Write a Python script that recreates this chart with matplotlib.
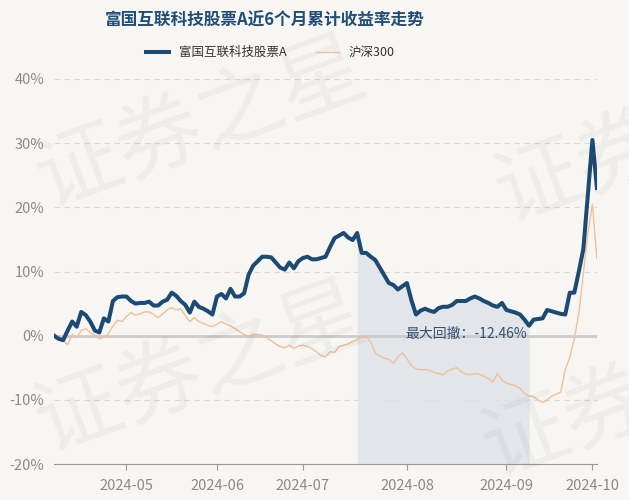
import matplotlib
matplotlib.use("Agg")
import matplotlib.pyplot as plt
import pandas as pd

plt.rcParams["font.family"] = ["Noto Sans CJK SC", "DejaVu Sans"]

# trading days shown on the category axis
holidays = ["2024-05-01", "2024-05-02", "2024-05-03", "2024-06-10",
            "2024-09-16", "2024-09-17", "2024-10-01", "2024-10-02",
            "2024-10-03", "2024-10-04", "2024-10-07"]
days = pd.bdate_range("2024-04-09", "2024-10-09")
days = days[~days.isin(pd.to_datetime(holidays))]

fund = [0.0, -0.5, -0.7, 0.8, 2.2, 1.4, 3.7, 3.2, 2.2, 0.8,
        0.5, 2.7, 2.2, 5.4, 6.0, 6.1, 6.1, 5.4, 5.0, 5.1,
        5.1, 5.3, 4.7, 4.7, 5.3, 5.6, 6.7, 6.2, 5.4, 4.8,
        3.6, 5.3, 4.5, 4.2, 3.8, 3.3, 6.1, 6.5, 5.8, 7.3,
        6.1, 6.1, 6.6, 9.5, 10.9, 11.6, 12.3, 12.3, 12.2, 11.4,
        10.6, 10.3, 11.4, 10.5, 11.6, 12.1, 12.3, 11.9, 11.9, 12.1,
        12.3, 13.8, 15.2, 15.6, 16.0, 15.3, 14.9, 16.0, 12.9, 12.9,
        12.3, 11.8, 10.6, 9.4, 8.2, 7.9, 7.2, 7.7, 8.2, 5.5,
        3.3, 3.9, 4.2, 3.9, 3.7, 4.3, 4.5, 4.5, 4.8, 5.4,
        5.4, 5.4, 5.8, 6.1, 5.8, 5.4, 5.1, 4.7, 4.5, 5.1,
        4.0, 3.8, 3.6, 3.3, 2.5, 1.55, 2.5, 2.6, 2.7, 4.0,
        3.8, 3.6, 3.4, 3.3, 6.7, 6.7, 10.0, 13.5, 22.0, 30.5,
        23.0]

hs300 = [0.0, -0.3, -0.8, -1.4, 0.2, -0.3, 0.8, 1.1, 0.5, 0.1,
         -0.5, -0.2, 0.3, 1.5, 2.4, 2.2, 3.0, 3.6, 3.2, 3.4,
         3.7, 3.7, 3.3, 2.8, 3.4, 4.0, 4.4, 4.0, 4.2, 3.1,
         2.2, 2.8, 2.2, 1.9, 1.6, 1.4, 1.8, 2.2, 1.8, 1.5,
         1.1, 0.6, 0.2, -0.1, 0.2, 0.2, 0.1, -0.3, -0.8, -1.3,
         -1.7, -1.9, -1.5, -2.0, -1.6, -1.5, -1.7, -2.0, -2.5, -3.1,
         -3.3, -2.5, -2.6, -1.7, -1.5, -1.3, -0.9, -0.6, -0.1, -0.2,
         -1.0, -2.7, -3.2, -3.5, -3.7, -4.3, -3.3, -2.7, -3.6, -4.7,
         -5.2, -5.3, -5.3, -5.4, -5.7, -5.9, -6.1, -5.5, -5.2, -5.0,
         -5.6, -6.0, -6.1, -5.9, -6.0, -6.3, -6.7, -7.2, -5.9, -6.9,
         -7.4, -7.6, -7.8, -8.2, -9.0, -9.4, -9.5, -10.0, -10.4, -10.0,
         -9.4, -9.1, -8.8, -5.3, -3.4, -0.5, 3.5, 9.7, 16.0, 20.5,
         12.0]

drawdown_start = "2024-07-17"
drawdown_end = "2024-09-09"
drawdown_text = "最大回撤：-12.46%"
y_ticks = [-20, -10, 0, 10, 20, 30, 40]

x = list(range(len(days)))
date_str = [d.strftime("%Y-%m-%d") for d in days]
month_first = pd.Series(x, index=days).groupby(days.to_period("M")).first()
tick_pos = list(month_first.values[1:])
tick_lab = [str(p) for p in month_first.index[1:]]

bg = "#f8f6f2"
fig = plt.figure(figsize=(6.29, 5.0), dpi=100, facecolor=bg)

# watermark
wm = dict(fontsize=62, color="#000000", alpha=0.04, rotation=20,
          ha="center", va="center")
fig.text(0.32, 0.75, "证券之星", **wm)
fig.text(0.32, 0.26, "证券之星", **wm)
fig.text(1.05, 0.72, "证券之星", clip_on=True, **wm)
fig.text(1.03, 0.21, "证券之星", clip_on=True, **wm)

ax = fig.add_axes([0.086, 0.072, 0.863, 0.770], facecolor="none")

s = date_str.index(drawdown_start)
e = date_str.index(drawdown_end)
ax.fill_between(x[s:e + 1], -20, fund[s:e + 1], color="#dde3ea",
                alpha=0.8, lw=0, zorder=1)
for t in y_ticks:
    if t == 0:
        ax.axhline(t, color="#cccccc", lw=2, zorder=2)
    else:
        ax.axhline(t, color="#d9d9d9", lw=0.8, ls=(0, (5, 4)), zorder=0)

ax.plot(x, hs300, color="#eec19a", lw=1.0, zorder=3, label="沪深300")
ax.plot(x, fund, color="#1b4a75", lw=2.9, zorder=4, label="富国互联科技股票A")

ax.text(91, 0.25, drawdown_text, ha="center", va="center",
        fontsize=10, color="#34506e", zorder=5)

ax.set_xlim(0, len(days) - 1)
ax.set_ylim(-20, 40)
ax.set_yticks(y_ticks)
ax.set_yticklabels([f"{t}%" for t in y_ticks])
ax.set_xticks(tick_pos)
ax.set_xticklabels(tick_lab)
ax.tick_params(axis="y", length=0, pad=7, labelsize=10.5, labelcolor="#8a8a8a")
ax.tick_params(axis="x", length=4, color="#999999", pad=7,
               labelsize=10.5, labelcolor="#8a8a8a")
for sp in ["top", "right", "left"]:
    ax.spines[sp].set_visible(False)
ax.spines["bottom"].set_color("#999999")
ax.spines["bottom"].set_position(("data", -20))

handles, labels = ax.get_legend_handles_labels()
fig.legend(handles[::-1], labels[::-1], loc="center", ncol=2,
           bbox_to_anchor=(0.43, 0.895), frameon=False, fontsize=9,
           handlelength=1.8, columnspacing=2.4, labelcolor="#333333")

fig.text(0.42, 0.958, "富国互联科技股票A近6个月累计收益率走势", ha="center",
         va="center", fontsize=12, fontweight="bold", color="#1f4e79")

fig.savefig("out.png", dpi=100, facecolor=bg)
